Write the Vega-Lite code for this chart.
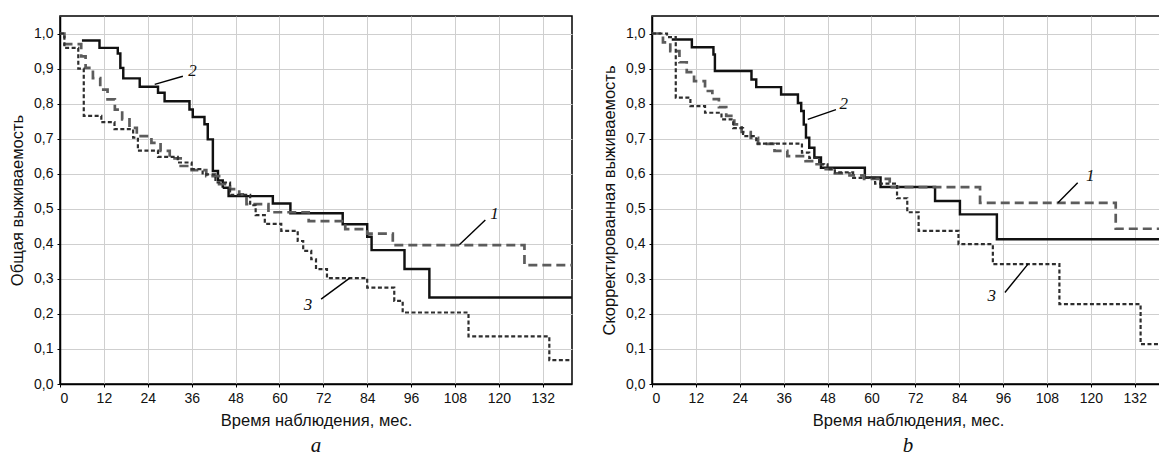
{
  "$schema": "https://vega.github.io/schema/vega-lite/v6.json",
  "padding": {"left": 8, "top": 15, "right": 0, "bottom": 0},
  "background": "white",
  "spacing": 27,
  "config": {
    "view": {"stroke": "black", "strokeWidth": 1.5},
    "axis": {
      "labelFont": "Liberation Sans", "labelFontSize": 14, "labelColor": "#111",
      "titleFont": "Liberation Sans", "titleFontSize": 16.5, "titleFontWeight": "normal", "titleColor": "#111",
      "gridColor": "#cfcfcf", "gridWidth": 1, "domainColor": "black", "domainWidth": 1.5,
      "tickColor": "black", "tickSize": 3
    },
    "title": {"font": "Liberation Serif", "fontStyle": "italic", "fontWeight": "normal", "fontSize": 21, "color": "#111", "orient": "bottom", "anchor": "middle", "offset": 6}
  },
  "datasets": {
    "a": [
      {"t": 6, "s": 0.98, "c": "2"}, {"t": 10.8, "s": 0.959, "c": "2"}, {"t": 15.8, "s": 0.943, "c": "2"}, {"t": 16.5, "s": 0.902, "c": "2"}, {"t": 17.3, "s": 0.872, "c": "2"}, {"t": 21.8, "s": 0.848, "c": "2"}, {"t": 26.8, "s": 0.831, "c": "2"}, {"t": 28.6, "s": 0.807, "c": "2"}, {"t": 35.4, "s": 0.783, "c": "2"}, {"t": 36.3, "s": 0.762, "c": "2"}, {"t": 39.5, "s": 0.741, "c": "2"}, {"t": 40.4, "s": 0.698, "c": "2"}, {"t": 41.8, "s": 0.608, "c": "2"}, {"t": 43.2, "s": 0.581, "c": "2"}, {"t": 44.5, "s": 0.56, "c": "2"}, {"t": 46.1, "s": 0.536, "c": "2"}, {"t": 58.2, "s": 0.515, "c": "2"}, {"t": 63, "s": 0.487, "c": "2"}, {"t": 77.3, "s": 0.456, "c": "2"}, {"t": 84, "s": 0.42, "c": "2"}, {"t": 85.2, "s": 0.382, "c": "2"}, {"t": 94.2, "s": 0.328, "c": "2"}, {"t": 101, "s": 0.247, "c": "2"}, {"t": 140, "s": 0.247, "c": "2"},
      {"t": 0, "s": 1.0, "c": "1"}, {"t": 1.2, "s": 0.97, "c": "1"}, {"t": 5.8, "s": 0.935, "c": "1"}, {"t": 7, "s": 0.902, "c": "1"}, {"t": 9, "s": 0.873, "c": "1"}, {"t": 11, "s": 0.84, "c": "1"}, {"t": 13, "s": 0.812, "c": "1"}, {"t": 15, "s": 0.783, "c": "1"}, {"t": 17, "s": 0.755, "c": "1"}, {"t": 19, "s": 0.731, "c": "1"}, {"t": 21, "s": 0.707, "c": "1"}, {"t": 25, "s": 0.688, "c": "1"}, {"t": 27.5, "s": 0.665, "c": "1"}, {"t": 30, "s": 0.644, "c": "1"}, {"t": 33, "s": 0.622, "c": "1"}, {"t": 36, "s": 0.61, "c": "1"}, {"t": 40, "s": 0.593, "c": "1"}, {"t": 43.5, "s": 0.57, "c": "1"}, {"t": 46.5, "s": 0.556, "c": "1"}, {"t": 49, "s": 0.541, "c": "1"}, {"t": 51, "s": 0.513, "c": "1"}, {"t": 57, "s": 0.49, "c": "1"}, {"t": 68, "s": 0.465, "c": "1"}, {"t": 78, "s": 0.442, "c": "1"}, {"t": 84, "s": 0.429, "c": "1"}, {"t": 91, "s": 0.396, "c": "1"}, {"t": 127, "s": 0.339, "c": "1"}, {"t": 140, "s": 0.339, "c": "1"},
      {"t": 0, "s": 1.0, "c": "3"}, {"t": 1.2, "s": 0.959, "c": "3"}, {"t": 5, "s": 0.9, "c": "3"}, {"t": 6.5, "s": 0.765, "c": "3"}, {"t": 11.3, "s": 0.747, "c": "3"}, {"t": 14.9, "s": 0.727, "c": "3"}, {"t": 20, "s": 0.703, "c": "3"}, {"t": 21.3, "s": 0.666, "c": "3"}, {"t": 26.8, "s": 0.648, "c": "3"}, {"t": 32.2, "s": 0.632, "c": "3"}, {"t": 36, "s": 0.613, "c": "3"}, {"t": 39, "s": 0.598, "c": "3"}, {"t": 42.5, "s": 0.575, "c": "3"}, {"t": 46.5, "s": 0.54, "c": "3"}, {"t": 52, "s": 0.51, "c": "3"}, {"t": 53.5, "s": 0.482, "c": "3"}, {"t": 56, "s": 0.457, "c": "3"}, {"t": 60.5, "s": 0.437, "c": "3"}, {"t": 65, "s": 0.408, "c": "3"}, {"t": 66.5, "s": 0.38, "c": "3"}, {"t": 68.7, "s": 0.356, "c": "3"}, {"t": 70, "s": 0.328, "c": "3"}, {"t": 73, "s": 0.302, "c": "3"}, {"t": 84, "s": 0.275, "c": "3"}, {"t": 91.4, "s": 0.237, "c": "3"}, {"t": 93.7, "s": 0.204, "c": "3"}, {"t": 111.7, "s": 0.136, "c": "3"}, {"t": 133.8, "s": 0.068, "c": "3"}, {"t": 140, "s": 0.068, "c": "3"}
    ],
    "b": [
      {"t": 5.4, "s": 0.983, "c": "2"}, {"t": 10.9, "s": 0.961, "c": "2"}, {"t": 16.8, "s": 0.94, "c": "2"}, {"t": 17.2, "s": 0.893, "c": "2"}, {"t": 27.2, "s": 0.869, "c": "2"}, {"t": 28.5, "s": 0.847, "c": "2"}, {"t": 35.3, "s": 0.826, "c": "2"}, {"t": 39.9, "s": 0.802, "c": "2"}, {"t": 40.8, "s": 0.779, "c": "2"}, {"t": 41.5, "s": 0.74, "c": "2"}, {"t": 42.1, "s": 0.703, "c": "2"}, {"t": 43, "s": 0.674, "c": "2"}, {"t": 44.4, "s": 0.646, "c": "2"}, {"t": 46.2, "s": 0.617, "c": "2"}, {"t": 58.2, "s": 0.589, "c": "2"}, {"t": 62.5, "s": 0.562, "c": "2"}, {"t": 77.4, "s": 0.522, "c": "2"}, {"t": 84.2, "s": 0.484, "c": "2"}, {"t": 94.3, "s": 0.413, "c": "2"}, {"t": 140, "s": 0.413, "c": "2"},
      {"t": 0, "s": 1.0, "c": "1"}, {"t": 3, "s": 0.975, "c": "1"}, {"t": 5, "s": 0.95, "c": "1"}, {"t": 7.5, "s": 0.918, "c": "1"}, {"t": 9.5, "s": 0.89, "c": "1"}, {"t": 11.5, "s": 0.864, "c": "1"}, {"t": 14.5, "s": 0.836, "c": "1"}, {"t": 16.5, "s": 0.813, "c": "1"}, {"t": 18.3, "s": 0.79, "c": "1"}, {"t": 20.3, "s": 0.765, "c": "1"}, {"t": 22.5, "s": 0.741, "c": "1"}, {"t": 24.5, "s": 0.719, "c": "1"}, {"t": 27, "s": 0.702, "c": "1"}, {"t": 29, "s": 0.685, "c": "1"}, {"t": 33.5, "s": 0.665, "c": "1"}, {"t": 37, "s": 0.65, "c": "1"}, {"t": 42, "s": 0.636, "c": "1"}, {"t": 44.5, "s": 0.627, "c": "1"}, {"t": 47, "s": 0.613, "c": "1"}, {"t": 50, "s": 0.601, "c": "1"}, {"t": 54, "s": 0.595, "c": "1"}, {"t": 58, "s": 0.585, "c": "1"}, {"t": 65, "s": 0.562, "c": "1"}, {"t": 89.7, "s": 0.517, "c": "1"}, {"t": 126.8, "s": 0.443, "c": "1"}, {"t": 140, "s": 0.443, "c": "1"},
      {"t": 0, "s": 1.0, "c": "3"}, {"t": 4.1, "s": 0.99, "c": "3"}, {"t": 6.5, "s": 0.817, "c": "3"}, {"t": 10.5, "s": 0.793, "c": "3"}, {"t": 14.5, "s": 0.774, "c": "3"}, {"t": 19, "s": 0.755, "c": "3"}, {"t": 22.2, "s": 0.73, "c": "3"}, {"t": 24.9, "s": 0.707, "c": "3"}, {"t": 28.5, "s": 0.686, "c": "3"}, {"t": 41, "s": 0.66, "c": "3"}, {"t": 43, "s": 0.645, "c": "3"}, {"t": 45.7, "s": 0.627, "c": "3"}, {"t": 48, "s": 0.613, "c": "3"}, {"t": 50, "s": 0.604, "c": "3"}, {"t": 55, "s": 0.588, "c": "3"}, {"t": 61, "s": 0.572, "c": "3"}, {"t": 67, "s": 0.53, "c": "3"}, {"t": 69.8, "s": 0.49, "c": "3"}, {"t": 72.9, "s": 0.437, "c": "3"}, {"t": 83.8, "s": 0.399, "c": "3"}, {"t": 93.2, "s": 0.342, "c": "3"}, {"t": 111.4, "s": 0.228, "c": "3"}, {"t": 133.6, "s": 0.114, "c": "3"}, {"t": 140, "s": 0.114, "c": "3"}
    ],
    "aln": [
      {"t": 25.9, "s": 0.855, "t2": 33.6, "s2": 0.878},
      {"t": 109.2, "s": 0.397, "t2": 116.3, "s2": 0.468},
      {"t": 71.4, "s": 0.242, "t2": 79.2, "s2": 0.302}
    ],
    "alb": [
      {"label": "2", "t": 36.2, "s": 0.893},
      {"label": "1", "t": 118.8, "s": 0.484},
      {"label": "3", "t": 67.8, "s": 0.226}
    ],
    "bln": [
      {"t": 42.6, "s": 0.755, "t2": 50.3, "s2": 0.783},
      {"t": 111, "s": 0.517, "t2": 116.4, "s2": 0.574},
      {"t": 96.5, "s": 0.261, "t2": 102.8, "s2": 0.342}
    ],
    "blb": [
      {"label": "2", "t": 52.4, "s": 0.8},
      {"label": "1", "t": 119.8, "s": 0.593},
      {"label": "3", "t": 92.9, "s": 0.25}
    ]
  },
  "hconcat": [
    {
      "width": 512, "height": 368,
      "title": {"text": "a"},
      "encoding": {
        "x": {"field": "t", "type": "quantitative", "scale": {"domain": [0, 140], "nice": false}, "axis": {"title": "Время наблюдения, мес.", "values": [0, 12, 24, 36, 48, 60, 72, 84, 96, 108, 120, 132], "grid": true, "labelPadding": 4, "titlePadding": 7}},
        "y": {"field": "s", "type": "quantitative", "scale": {"domain": [0, 1.05], "nice": false}, "axis": {"title": "Общая выживаемость", "values": [0, 0.1, 0.2, 0.3, 0.4, 0.5, 0.6, 0.7, 0.8, 0.9, 1.0], "labelExpr": "replace(format(datum.value, '.1f'), '.', ',')", "grid": true, "labelPadding": 4, "titlePadding": 8}}
      },
      "layer": [
        {
          "data": {"name": "a"},
          "mark": {"type": "line", "interpolate": "step-after", "clip": true},
          "encoding": {
            "color": {"field": "c", "type": "nominal", "scale": {"domain": ["1", "2", "3"], "range": ["#5c5c5c", "#111111", "#2e2e2e"]}, "legend": null},
            "strokeDash": {"field": "c", "type": "nominal", "scale": {"domain": ["1", "2", "3"], "range": [[9, 5], [1, 0], [4, 2.5]]}, "legend": null},
            "strokeWidth": {"field": "c", "type": "nominal", "scale": {"domain": ["1", "2", "3"], "range": [2.7, 2.2, 2.1]}, "legend": null}
          }
        },
        {
          "data": {"name": "aln"},
          "mark": {"type": "rule", "color": "black", "strokeWidth": 1.4},
          "encoding": {"x2": {"field": "t2"}, "y2": {"field": "s2"}}
        },
        {
          "data": {"name": "alb"},
          "mark": {"type": "text", "font": "Liberation Serif", "fontStyle": "italic", "fontSize": 17, "color": "#111"},
          "encoding": {"text": {"field": "label"}}
        }
      ]
    },
    {
      "width": 512, "height": 368,
      "title": {"text": "b"},
      "encoding": {
        "x": {"field": "t", "type": "quantitative", "scale": {"domain": [0, 140], "nice": false}, "axis": {"title": "Время наблюдения, мес.", "values": [0, 12, 24, 36, 48, 60, 72, 84, 96, 108, 120, 132], "grid": true, "labelPadding": 4, "titlePadding": 7}},
        "y": {"field": "s", "type": "quantitative", "scale": {"domain": [0, 1.05], "nice": false}, "axis": {"title": "Скорректированная выживаемость", "values": [0, 0.1, 0.2, 0.3, 0.4, 0.5, 0.6, 0.7, 0.8, 0.9, 1.0], "labelExpr": "replace(format(datum.value, '.1f'), '.', ',')", "grid": true, "labelPadding": 4, "titlePadding": 8}}
      },
      "layer": [
        {
          "data": {"name": "b"},
          "mark": {"type": "line", "interpolate": "step-after", "clip": true},
          "encoding": {
            "color": {"field": "c", "type": "nominal", "scale": {"domain": ["1", "2", "3"], "range": ["#5c5c5c", "#111111", "#2e2e2e"]}, "legend": null},
            "strokeDash": {"field": "c", "type": "nominal", "scale": {"domain": ["1", "2", "3"], "range": [[9, 5], [1, 0], [4, 2.5]]}, "legend": null},
            "strokeWidth": {"field": "c", "type": "nominal", "scale": {"domain": ["1", "2", "3"], "range": [2.7, 2.2, 2.1]}, "legend": null}
          }
        },
        {
          "data": {"name": "bln"},
          "mark": {"type": "rule", "color": "black", "strokeWidth": 1.4},
          "encoding": {"x2": {"field": "t2"}, "y2": {"field": "s2"}}
        },
        {
          "data": {"name": "blb"},
          "mark": {"type": "text", "font": "Liberation Serif", "fontStyle": "italic", "fontSize": 17, "color": "#111"},
          "encoding": {"text": {"field": "label"}}
        }
      ]
    }
  ]
}
